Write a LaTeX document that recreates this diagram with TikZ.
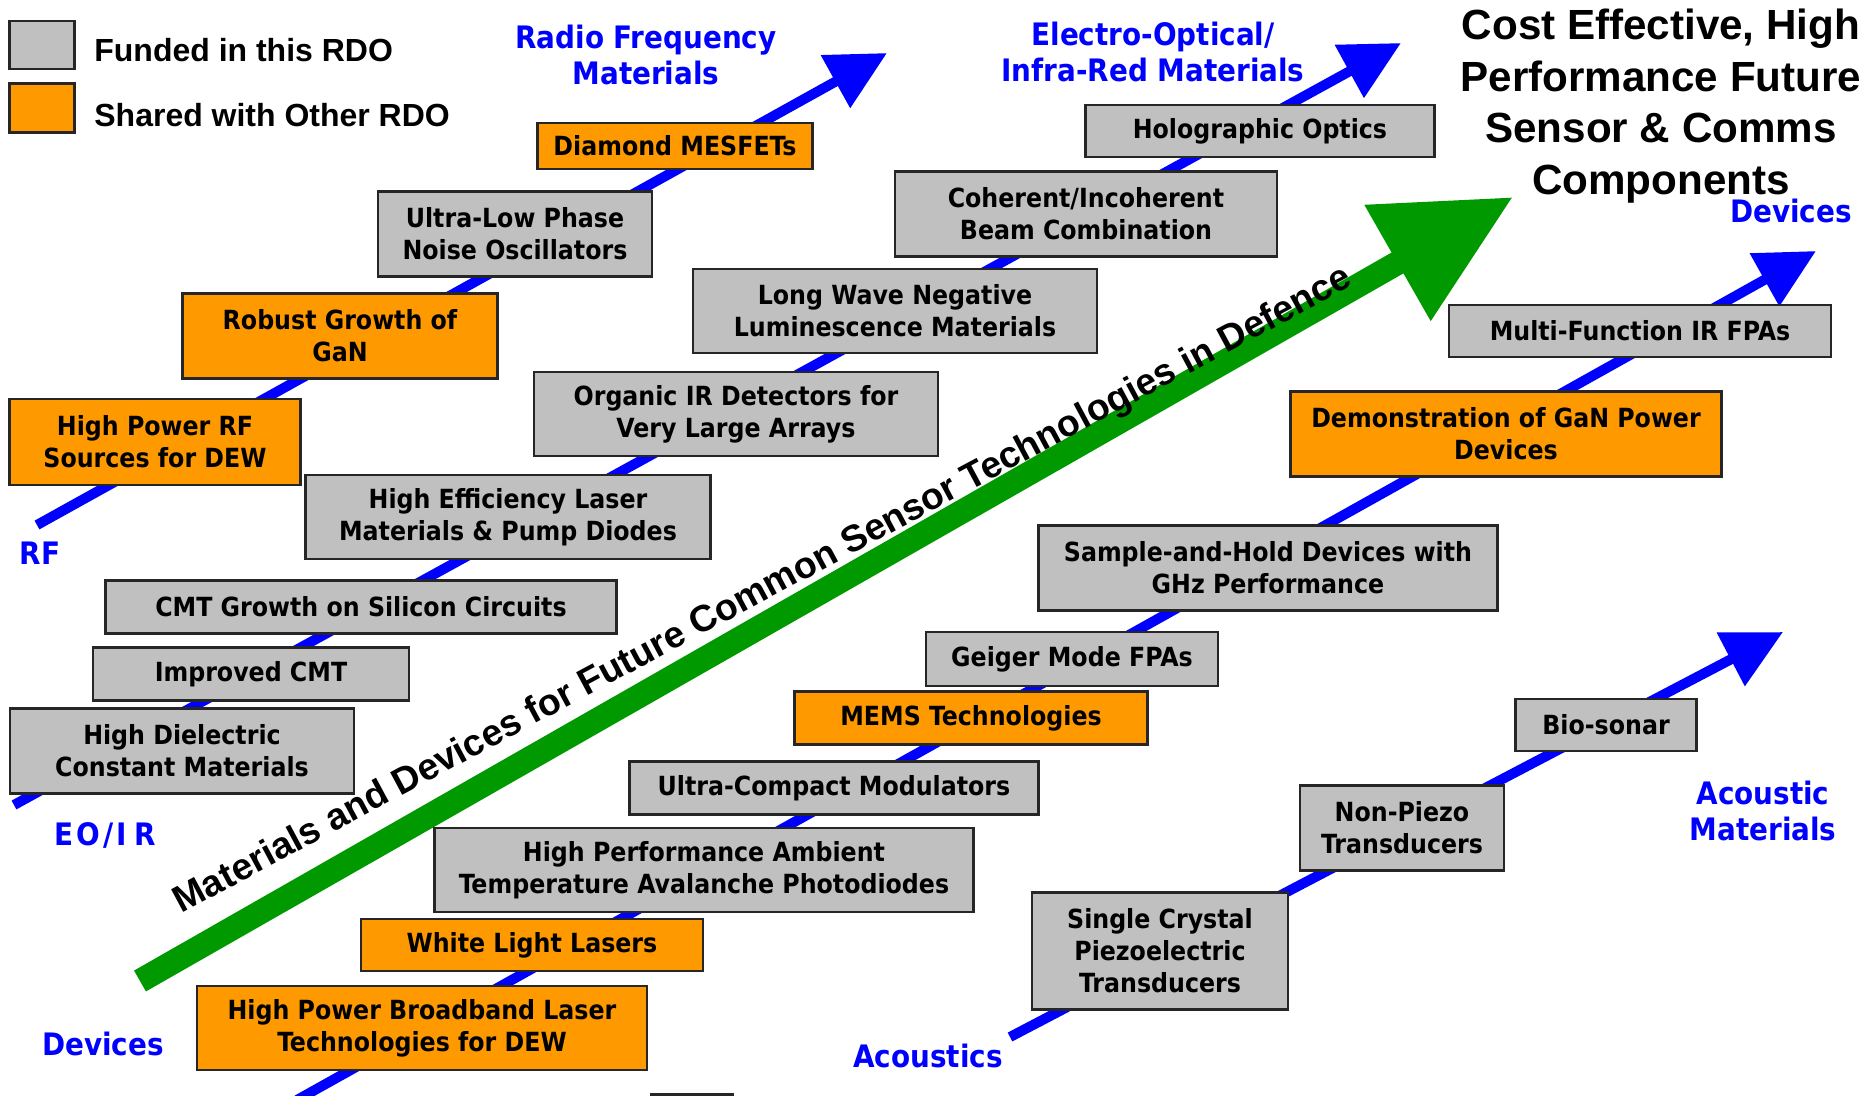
\documentclass[tikz,border=0pt]{standalone}
\usepackage{fontspec}
\setmainfont{Liberation Sans}
\newfontfamily\boxfont{DejaVu Sans Condensed Bold}
\usetikzlibrary{arrows.meta}
\definecolor{fundgray}{HTML}{C0C0C0}
\definecolor{shareorange}{HTML}{FF9900}
\definecolor{trackblue}{HTML}{0000FF}
\definecolor{maingreen}{HTML}{009900}

\begin{document}
\begin{tikzpicture}[x=0.1mm, y=-0.1mm,
  box/.style = {draw=black!85, line width=0.25mm, inner sep=0pt, align=center,
    font=\boxfont\fontsize{7.5}{9.1}\selectfont},
  funded/.style = {box, fill=fundgray},
  shared/.style = {box, fill=shareorange},
  track/.style = {draw=trackblue, line width=1mm,
    -{Triangle[length=5.9mm, width=5.8mm]}},
  mainarrow/.style = {draw=maingreen, line width=2.4mm,
    -{Triangle[length=13.3mm, width=12.7mm]}},
  tracklabel/.style = {text=trackblue, align=center,
    font=\boxfont\fontsize{8.8}{10.5}\selectfont}]
  \useasboundingbox (0,0) rectangle (1876,1095);

  \coordinate (rfstart) at (37,525);
  \coordinate (rfend) at (887,53);
  \coordinate (eostart) at (14,805);
  \coordinate (eoend) at (1401,43);
  \coordinate (devstart) at (297,1100);
  \coordinate (devend) at (1816,251);
  \coordinate (acstart) at (1010,1037);
  \coordinate (acend) at (1783,632);
  \coordinate (mainstart) at (140,981);
  \coordinate (mainend) at (1513,197);

  \draw[track] (rfstart) -- (rfend);
  \draw[track] (eostart) -- (eoend);
  \draw[track] (devstart) -- (devend);
  \draw[track] (acstart) -- (acend);
  \draw[mainarrow] (mainstart) -- (mainend);
  \node[rotate=28.2, anchor=base west, inner sep=0pt,
    font=\fontsize{10.6}{12}\selectfont\bfseries] (maintext) at (181,914)
    {Materials and Devices for Future Common Sensor Technologies in Defence};

  \node[funded, minimum width=6.5mm, minimum height=4.8mm] (fundkey) at (42,45) {};
  \node[shared, minimum width=6.5mm, minimum height=4.9mm] (sharekey) at (42,108) {};
  \node[anchor=west, font=\fontsize{9.1}{11}\selectfont\bfseries] (fundtext) at (82,50) {Funded in this RDO};
  \node[anchor=west, font=\fontsize{9.1}{11}\selectfont\bfseries] (sharetext) at (82,115) {Shared with Other RDO};

  \node[align=center, font=\fontsize{12}{14.7}\selectfont\bfseries] (title) at (1661,106)
    {Cost Effective, High\\Performance Future\\Sensor \& Comms\\Components};

  \node[tracklabel] (rflabel) at (40,553) {RF};
  \node[tracklabel] (eolabel) at (105,835) {E\kern0.8pt O\kern1pt/\kern1pt I\kern2pt R};
  \node[tracklabel] (devlabel) at (103,1044) {Devices};
  \node[tracklabel] (aclabel) at (928,1056) {Acoustics};
  \node[tracklabel] (rfmat) at (646,55) {Radio Frequency\\Materials};
  \node[tracklabel] (eomat) at (1153,52) {Electro-Optical/\\Infra-Red Materials};
  \node[tracklabel] (devmat) at (1791,211) {Devices};
  \node[tracklabel] (acmat) at (1763,811) {Acoustic\\Materials};

  \node[shared, minimum width=27.5mm, minimum height=4.6mm] (diamond) at (675,146) {Diamond MESFETs};
  \node[funded, minimum width=27.4mm, minimum height=8.5mm] (phasenoise) at (515,234) {Ultra-Low Phase\\Noise Oscillators};
  \node[shared, minimum width=31.5mm, minimum height=8.5mm] (robustgan) at (340,336) {Robust Growth of\\GaN};
  \node[shared, minimum width=29.1mm, minimum height=8.6mm] (hprf) at (155,442) {High Power RF\\Sources for DEW};

  \node[funded, minimum width=34.9mm, minimum height=5.2mm] (holo) at (1260,131) {Holographic Optics};
  \node[funded, minimum width=38.2mm, minimum height=8.5mm] (beamcomb) at (1086,214) {Coherent/Incoherent\\Beam Combination};
  \node[funded, minimum width=40.4mm, minimum height=8.4mm] (lwnl) at (895,311) {Long Wave Negative\\Luminescence Materials};
  \node[funded, minimum width=40.4mm, minimum height=8.4mm] (organicir) at (736,414) {Organic IR Detectors for\\Very Large Arrays};
  \node[funded, minimum width=40.5mm, minimum height=8.4mm] (laserpump) at (508,517) {High Efficiency Laser\\Materials \& Pump Diodes};
  \node[funded, minimum width=51.1mm, minimum height=5.3mm] (cmtsilicon) at (361,607) {CMT Growth on Silicon Circuits};
  \node[funded, minimum width=31.6mm, minimum height=5.3mm] (improvedcmt) at (251,674) {Improved CMT};
  \node[funded, minimum width=34.4mm, minimum height=8.5mm] (dielectric) at (182,751) {High Dielectric\\Constant Materials};

  \node[funded, minimum width=38.2mm, minimum height=5.2mm] (multiir) at (1640,331) {Multi-Function IR FPAs};
  \node[shared, minimum width=43.1mm, minimum height=8.5mm] (ganpower) at (1506,434) {Demonstration of GaN Power\\Devices};
  \node[funded, minimum width=45.9mm, minimum height=8.5mm] (samplehold) at (1268,568) {Sample-and-Hold Devices with\\GHz Performance};
  \node[funded, minimum width=29.2mm, minimum height=5.4mm] (geiger) at (1072,659) {Geiger Mode FPAs};
  \node[shared, minimum width=35.3mm, minimum height=5.3mm] (mems) at (971,718) {MEMS Technologies};
  \node[funded, minimum width=40.9mm, minimum height=5.3mm] (modulators) at (834,788) {Ultra-Compact Modulators};
  \node[funded, minimum width=53.9mm, minimum height=8.4mm] (apd) at (704,870) {High Performance Ambient\\Temperature Avalanche Photodiodes};
  \node[shared, minimum width=34.2mm, minimum height=5.2mm] (whitelight) at (532,945) {White Light Lasers};
  \node[shared, minimum width=45mm, minimum height=8.4mm] (broadband) at (422,1028) {High Power Broadband Laser\\Technologies for DEW};
  \node[box, fill=white, minimum width=8.1mm, minimum height=5mm, anchor=north west] (cutbox) at (650,1093) {};

  \node[funded, minimum width=18.1mm, minimum height=5.2mm] (biosonar) at (1606,725) {Bio-sonar};
  \node[funded, minimum width=20.4mm, minimum height=8.5mm] (nonpiezo) at (1402,828) {Non-Piezo\\Transducers};
  \node[funded, minimum width=25.6mm, minimum height=11.7mm] (piezo) at (1160,951) {Single Crystal\\Piezoelectric\\Transducers};
\end{tikzpicture}
\end{document}
